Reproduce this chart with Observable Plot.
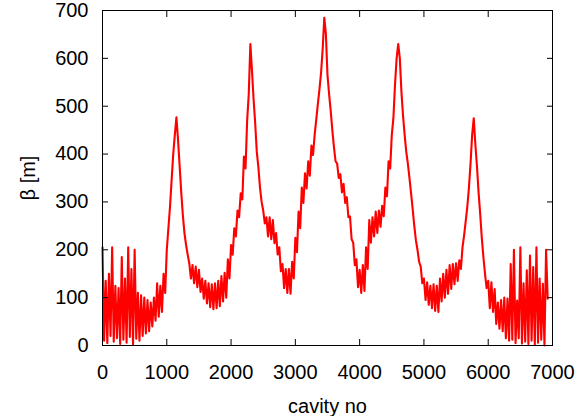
<!DOCTYPE html>
<html><head><meta charset="utf-8">
<script src="https://cdn.jsdelivr.net/npm/d3@7"></script>
<script src="https://cdn.jsdelivr.net/npm/@observablehq/plot@0.6"></script>
<style>body{margin:0;background:#fff}</style>
</head><body><div id="chart"></div>
<script>
const step = 25;
const segmentStarts = [0, 1000, 2000, 3000, 4000, 5000, 6000];
const beta0000 = [205,10,135,5,150,20,205,8,125,15,120,3,185,12,140,6,205,18,160,2,200,14,110,10,105,20,100,25,95,30,90,40,100,52,130,60,125,70,150,110];
const beta1000 = [200,245,290,345,400,440,477,430,375,320,272,235,210,190,172,140,168,130,165,122,158,112,140,98,135,88,130,80,128,76,130,78,135,82,145,92,152,100,180,140];
const beta2000 = [210,190,245,228,282,268,318,305,395,370,470,525,630,575,515,465,405,372,330,300,282,255,268,228,268,222,262,214,235,190,205,155,170,120,160,110,160,108,175,140];
const beta3000 = [225,195,280,245,330,298,360,328,385,355,418,398,440,472,505,535,570,620,685,650,565,525,490,450,415,385,380,350,358,320,338,298,310,268,270,222,215,168,180,122];
const beta4000 = [158,110,168,114,205,160,262,215,268,228,280,235,282,248,292,270,330,312,385,370,440,475,545,600,630,600,530,480,440,405,380,350,318,285,250,220,200,175,165,130];
const beta5000 = [140,95,132,85,125,78,128,72,125,70,140,92,150,100,158,108,168,118,170,128,172,135,178,160,205,230,260,290,330,380,440,475,420,375,320,275,225,185,150,120];
const beta6000 = [135,78,132,70,118,45,90,35,95,30,100,15,98,10,170,12,200,5,94,15,205,4,130,8,157,3,188,10,164,2,205,6,140,12,129,0,200,98];

const xTicks = [0, 1000, 2000, 3000, 4000, 5000, 6000, 7000];
const yTicks = [0, 100, 200, 300, 400, 500, 600, 700];
const xLabel = "cavity no";
const yLabel = "β [m]";

const segments = [beta0000, beta1000, beta2000, beta3000, beta4000, beta5000, beta6000];
const data = segments.flatMap((vals, s) => vals.map((b, i) => ({cavity: segmentStarts[s] + i * step, beta: b})));

const font = "'Liberation Sans', Arial, Helvetica, sans-serif";
const chart = Plot.plot({
  width: 581, height: 416,
  marginLeft: 102, marginRight: 29, marginTop: 10, marginBottom: 71,
  style: {fontFamily: font, fontSize: "20px", background: "#fff", color: "#000"},
  x: {domain: [0, 7000]},
  y: {domain: [0, 700]},
  marks: [
    Plot.line(data, {x: "cavity", y: "beta", stroke: "#ff0000", strokeWidth: 2.1}),
    Plot.frame({stroke: "#000"}),
    Plot.axisX(xTicks, {anchor: "bottom", tickSize: -6, tickPadding: 25, tickFormat: d3.format("d"), label: xLabel, labelAnchor: "center", labelArrow: "none", labelOffset: 67}),
    Plot.axisX(xTicks, {anchor: "top", tickSize: -6, fill: "none", label: null}),
    Plot.axisY(yTicks, {anchor: "left", tickSize: -6, tickPadding: 20, tickFormat: d3.format("d"), label: yLabel, labelAnchor: "center", labelArrow: "none", labelOffset: 82}),
    Plot.axisY(yTicks, {anchor: "right", tickSize: -6, fill: "none", label: null})
  ]
});
document.getElementById("chart").appendChild(chart);
</script>
</body></html>
